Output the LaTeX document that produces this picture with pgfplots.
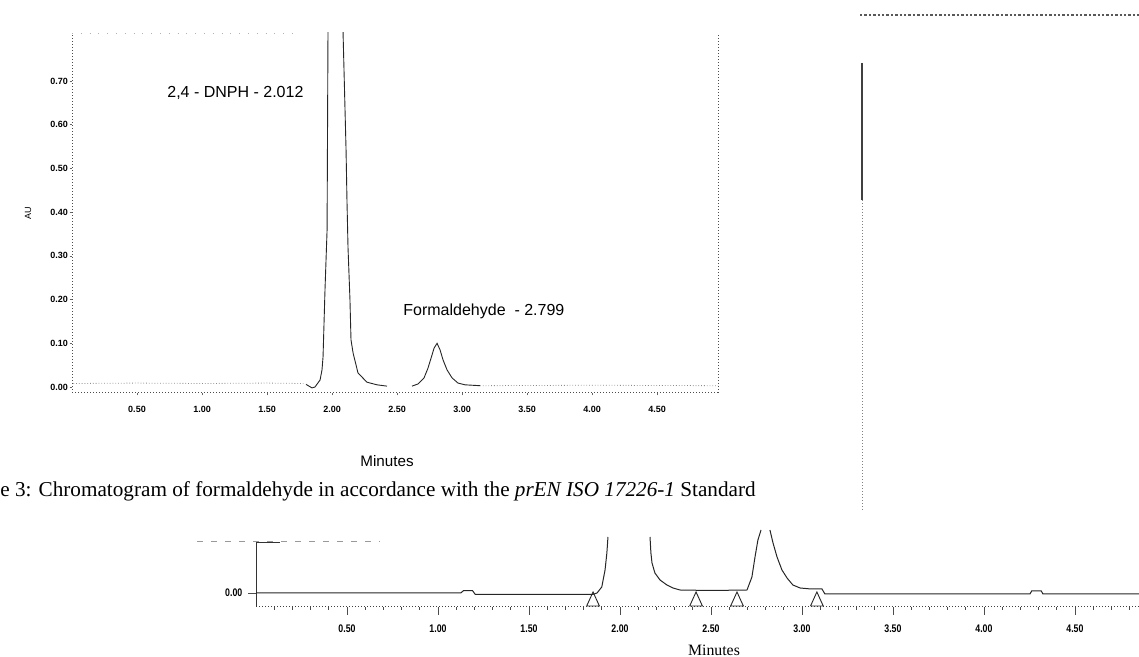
\documentclass[border=0pt]{standalone}
\usepackage{fontspec}
\setmainfont{Liberation Serif}
\setsansfont{Liberation Sans}
\usepackage{pgfplots}
\pgfplotsset{compat=1.18}

\begin{document}
\begin{tikzpicture}
\useasboundingbox (0,0) rectangle (569.5pt,328.5pt);
\clip (0,0) rectangle (569.5pt,328.5pt);

% page frame in scan pixels (y down), for the labels and the stray lines
\begin{axis}[at={(0,0)},anchor=south west,width=569.5pt,height=328.5pt,scale only axis,hide axis,
  xmin=0,xmax=1139,ymin=0,ymax=657,y dir=reverse,clip=false]
\addplot[black!65,line width=1.2pt,densely dotted] coordinates {(860,15)(1139,15)};
\addplot[black!75,line width=0.6pt] coordinates {(862,63)(862,200)};
\addplot[black!50,line width=0.5pt,densely dotted] coordinates {(862,200)(862,510)};
\addplot[black!40,line width=0.4pt,dash pattern=on 3pt off 4pt] coordinates {(197,541)(380,541)};
\node[anchor=base west,inner sep=0pt,font=\fontsize{10.6}{12}\selectfont] at (axis cs:0,496)
  {e 3: Chromatogram of formaldehyde in accordance with the \textit{prEN ISO 17226-1} Standard};
\node[anchor=base,inner sep=0pt,font=\sffamily\fontsize{7.6}{9}\selectfont] at (axis cs:387,466) {Minutes};
\node[anchor=base,inner sep=0pt,font=\fontsize{7.9}{9}\selectfont] at (axis cs:714,655) {Minutes};
\node[anchor=base west,inner sep=0pt,font=\sffamily\fontsize{8}{9.6}\selectfont] at (axis cs:167,98) {2,4 - DNPH - 2.012};
\node[anchor=base west,inner sep=0pt,font=\sffamily\fontsize{8}{9.6}\selectfont] at (axis cs:403,315) {Formaldehyde\ \ - 2.799};
\node[rotate=90,font=\sffamily\fontsize{4.5}{5}\selectfont] at (axis cs:28,213) {AU};
\end{axis}

% upper chromatogram
\begin{axis}[at={(36pt,132pt)},anchor=south west,width=323pt,height=180pt,scale only axis,
  xmin=0,xmax=4.969,ymin=-0.0137,ymax=0.8101,
  separate axis lines,x axis line style={draw=none},y axis line style={black!70,densely dotted,line width=0.5pt},
  xtick pos=bottom,ytick pos=left,tick align=outside,major tick length=1.2pt,
  tick style={black!60,line width=0.4pt},
  xtick={0.5,1,1.5,2,2.5,3,3.5,4,4.5},
  xticklabels={0.50,1.00,1.50,2.00,2.50,3.00,3.50,4.00,4.50},
  ytick={0,0.1,0.2,0.3,0.4,0.5,0.6,0.7},
  yticklabels={0.00,0.10,0.20,0.30,0.40,0.50,0.60,0.70},
  tick label style={font=\sffamily\bfseries\fontsize{4.5}{5}\selectfont},
  xticklabel style={yshift=-1.8pt},yticklabel style={inner sep=0.6pt}]
\addplot[black!70,densely dotted,line width=0.5pt] coordinates {(0,-0.0137)(4.969,-0.0137)};
\addplot[black!30,loosely dotted,line width=0.4pt] coordinates {(0,0.8101)(1.7,0.8101)};
\addplot[black!45,densely dotted,line width=0.4pt] coordinates {(0.01,0.008)(0.5,0.009)(1.0,0.008)(1.5,0.009)(1.78,0.008)};
\addplot[black!85,line width=0.45pt] coordinates {
  (1.80,0.006)(1.846,-0.002)(1.869,0.0)(1.908,0.016)(1.923,0.039)(1.931,0.069)(1.946,0.222)
  (1.962,0.359)(1.969,0.81)(2.03,2.0)(2.085,0.81)(2.108,0.542)(2.115,0.428)(2.123,0.32)
  (2.138,0.2)(2.146,0.108)(2.162,0.078)(2.2,0.032)(2.269,0.011)(2.346,0.005)(2.423,0.002)};
\addplot[black!85,line width=0.45pt] coordinates {
  (2.615,0.002)(2.662,0.007)(2.708,0.021)(2.738,0.043)(2.769,0.073)(2.785,0.089)(2.808,0.10)
  (2.831,0.085)(2.854,0.062)(2.885,0.039)(2.923,0.021)(2.969,0.009)(3.023,0.005)(3.138,0.003)};
\addplot[black!45,densely dotted,line width=0.4pt] coordinates {(3.138,0.003)(4.0,0.004)(4.969,0.003)};
\end{axis}

% lower chromatogram, y in scan pixels above the zero line
\begin{axis}[at={(128pt,25pt)},anchor=south west,width=441.5pt,height=38.5pt,scale only axis,
  xmin=0,xmax=4.852,ymin=-14,ymax=63,clip=false,
  axis x line=bottom,axis y line=left,axis line style={-},
  x axis line style={black!75,densely dotted,line width=0.5pt},y axis line style={draw=none},
  tick align=outside,major tick length=4pt,minor tick length=1.5pt,
  tick style={black!70,line width=0.4pt},
  xtick={0.5,1,1.5,2,2.5,3,3.5,4,4.5},
  xticklabels={0.50,1.00,1.50,2.00,2.50,3.00,3.50,4.00,4.50},
  minor xtick={0.1,0.2,0.3,0.4,0.6,0.7,0.8,0.9,1.1,1.2,1.3,1.4,1.6,1.7,1.8,1.9,2.1,2.2,2.3,2.4,2.6,2.7,2.8,2.9,3.1,3.2,3.3,3.4,3.6,3.7,3.8,3.9,4.1,4.2,4.3,4.4,4.6,4.7,4.8},
  ytick={0},yticklabels={0.00},
  tick label style={font=\sffamily\bfseries\fontsize{5.5}{6}\selectfont,xscale=0.8},
  xticklabel style={yshift=-1.5pt}]
\addplot[black!80,line width=0.5pt] coordinates {(0,-14)(0,50)(0.13,50)};
\addplot[black!85,line width=0.5pt] coordinates {
  (0,0)(1.125,0)(1.14,2.3)(1.19,2.3)(1.205,-1.5)(1.85,-1.5)(1.874,0)(1.9,6)(1.918,23)(1.928,40)(1.934,56)};
\addplot[black!85,line width=0.5pt] coordinates {
  (2.165,56)(2.17,40)(2.176,30)(2.192,20)(2.22,13)(2.258,8)(2.291,5)(2.33,3)(2.5,2.5)
  (2.698,3)(2.725,16)(2.742,36)(2.758,53)(2.775,63)};
\addplot[black!85,line width=0.5pt] coordinates {
  (2.824,63)(2.841,50)(2.863,36)(2.89,23)(2.918,15)(2.95,8)(2.99,5)(3.05,4)(3.11,4)(3.126,-1)
  (4.253,-1)(4.262,2)(4.315,2)(4.324,-1)(4.852,-1)};
\addplot[black!85,line width=0.45pt] coordinates {(1.817,-13)(1.852,1)(1.887,-13)(1.817,-13)};
\addplot[black!85,line width=0.45pt] coordinates {(2.383,-13)(2.418,1)(2.453,-13)(2.383,-13)};
\addplot[black!85,line width=0.45pt] coordinates {(2.608,-13)(2.643,1)(2.678,-13)(2.608,-13)};
\addplot[black!85,line width=0.45pt] coordinates {(3.047,-13)(3.082,1)(3.117,-13)(3.047,-13)};
\end{axis}
\end{tikzpicture}
\end{document}
